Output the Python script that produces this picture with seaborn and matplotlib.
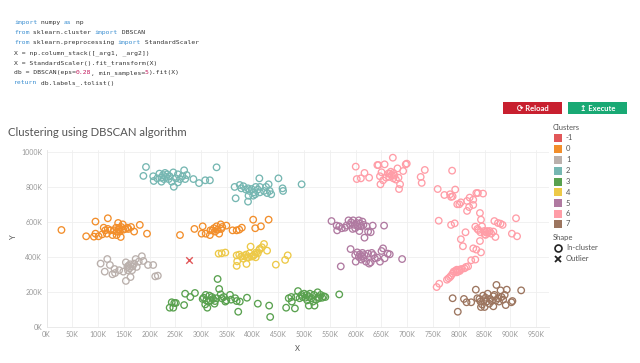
import matplotlib
matplotlib.use('Agg')
import pandas as pd
import matplotlib.pyplot as plt
import seaborn as sns
from matplotlib.patches import Rectangle

# --- data (values in thousands) ---
x_out = [276]
y_out = [383]

x0 = [29, 77, 92, 95, 95, 101, 108, 111, 114, 117, 119, 119, 128, 131, 135, 136, 139, 140, 142, 144,
      145, 148, 149, 153, 157, 159, 164, 170, 181, 195, 136, 141, 124,
      259, 287, 301, 303, 309, 317, 322, 325, 327, 330, 332, 335, 338, 339, 341, 349, 361, 369, 374, 379,
      401, 405, 416, 431, 318]
y0 = [556, 520, 518, 535, 604, 520, 531, 569, 554, 535, 623, 562, 527, 554, 569, 527, 596, 558, 547, 516,
      573, 588, 558, 562, 569, 562, 573, 547, 585, 535, 547, 569, 554,
      527, 562, 535, 577, 535, 527, 554, 566, 547, 577, 558, 535, 588, 562, 573, 581, 554, 554, 558, 569,
      615, 566, 577, 615, 554]

x1 = [105, 113, 118, 123, 128, 132, 133, 141, 154, 154, 157, 158, 159, 161, 162, 163, 167, 170, 173, 175,
      179, 185, 188, 197, 207, 211, 216, 166, 149]
y1 = [364, 318, 390, 356, 303, 333, 310, 326, 371, 265, 345, 326, 352, 337, 360, 287, 348, 364, 390, 345,
      375, 406, 379, 356, 356, 291, 295, 326, 318]

x2 = [193, 188, 207, 208, 219, 223, 226, 230, 232, 234, 237, 239, 243, 246, 247, 251, 255, 255, 259, 264,
      267, 269, 272, 285, 296, 308, 317, 330, 223, 228, 215,
      365, 375, 378, 382, 387, 391, 394, 398, 402, 406, 410, 414, 413, 422, 426, 431, 433, 436, 450, 458,
      459, 367, 391, 392, 401, 405, 414, 428, 495]
y2 = [916, 865, 863, 836, 878, 832, 870, 882, 859, 874, 847, 863, 832, 885, 803, 851, 874, 828, 847, 863,
      897, 847, 870, 847, 824, 840, 840, 914, 855, 847, 851,
      802, 813, 794, 806, 787, 794, 779, 790, 771, 802, 787, 802, 851, 779, 802, 817, 779, 760, 851, 794,
      779, 737, 718, 752, 752, 760, 771, 767, 817]

x3 = [332, 335, 338, 340, 344, 347, 349, 356, 358, 366, 369, 375, 372, 389, 410, 432, 434, 239, 243, 246,
      248, 251, 267, 269, 279, 288, 303, 305, 308, 310, 312, 314, 316, 318, 321, 323, 326, 327, 330, 309,
      465, 470, 475, 482, 488, 491, 495, 497, 500, 502, 505, 506, 509, 510, 511, 514, 517, 519, 520, 523,
      526, 527, 529, 532, 535, 538, 541, 568, 484, 476]
y3 = [276, 219, 188, 166, 173, 147, 154, 185, 158, 166, 150, 147, 89, 169, 135, 124, 59, 112, 143, 112,
      139, 139, 127, 192, 173, 196, 162, 169, 131, 154, 112, 147, 181, 154, 173, 162, 135, 150, 166, 185,
      112, 166, 173, 108, 207, 166, 185, 173, 192, 169, 185, 154, 124, 173, 192, 166, 147, 185, 124, 158,
      200, 173, 166, 185, 169, 177, 173, 188, 173, 147]

x4 = [334, 340, 347, 369, 370, 369, 374, 378, 384, 387, 388, 392, 394, 396, 398, 401, 403, 406, 407, 410,
      413, 414, 418, 422, 428, 445, 463, 468, 389, 382]
y4 = [421, 423, 427, 411, 377, 351, 415, 404, 407, 415, 362, 400, 423, 461, 404, 407, 415, 400, 427, 423,
      442, 449, 457, 476, 438, 358, 385, 411, 400, 392]

x5 = [553, 563, 564, 568, 573, 579, 582, 586, 589, 591, 594, 595, 598, 599, 602, 604, 606, 607, 611, 613,
      615, 617, 621, 624, 629, 633, 655, 608,
      571, 590, 599, 600, 603, 606, 608, 611, 612, 615, 617, 620, 624, 626, 629, 631, 634, 637, 642, 647,
      650, 653, 656, 662, 666, 690, 613]
y5 = [607, 581, 554, 577, 566, 569, 581, 611, 585, 600, 562, 611, 585, 566, 596, 577, 611, 550, 577, 604,
      585, 512, 577, 547, 543, 581, 581, 592,
      348, 447, 413, 375, 428, 402, 417, 387, 406, 394, 413, 375, 421, 364, 371, 425, 413, 394, 398, 375,
      436, 451, 394, 421, 417, 390, 425]

x6 = [600, 602, 610, 617, 626, 642, 644, 647, 650, 653, 648, 656, 659, 663, 665, 668, 670, 672, 673, 675,
      678, 681, 683, 686, 684, 692, 697, 699, 726, 728, 734, 787, 666, 673,
      759, 772, 783, 785, 788, 793, 797, 801, 804, 816, 816, 821, 820, 828, 828, 834, 837, 847, 841, 843,
      761, 785, 792, 813, 804, 808, 828, 832, 836, 838, 842, 845, 849, 850, 852, 855, 858, 860, 863, 867,
      871, 869, 876, 881, 885, 911, 903, 913, 841, 852,
      834, 843, 824, 832, 818, 811, 805, 802, 798, 796, 793, 790, 788, 785, 783, 780, 777, 762, 757, 801,
      796, 814]
y6 = [918, 847, 851, 882, 855, 927, 927, 863, 886, 840, 817, 931, 855, 878, 859, 889, 870, 969, 851, 867,
      844, 908, 855, 817, 790, 893, 931, 935, 859, 825, 899, 895, 878, 882,
      790, 756, 760, 745, 748, 787, 703, 703, 714, 722, 665, 741, 687, 729, 699, 767, 767, 764, 653, 615,
      609, 585, 594, 543, 503, 463, 451, 575, 562, 556, 543, 577, 550, 531, 543, 550, 543, 550, 535, 547,
      516, 607, 596, 592, 585, 623, 535, 520, 493, 528,
      444, 428, 383, 387, 348, 337, 333, 322, 318, 329, 322, 318, 307, 295, 287, 280, 272, 249, 230, 329,
      314, 345]

x7 = [788, 798, 810, 815, 824, 833, 836, 840, 842, 843, 845, 847, 849, 850, 852, 854, 856, 859, 861, 864,
      867, 869, 872, 873, 876, 878, 881, 883, 886, 889, 891, 893, 902, 904, 921, 867]
y7 = [166, 89, 162, 143, 143, 215, 166, 162, 147, 116, 131, 181, 154, 116, 169, 147, 192, 135, 162, 150,
      120, 185, 154, 242, 166, 147, 211, 173, 158, 185, 127, 215, 143, 150, 211, 177]

cluster_names = ['-1', '0', '1', '2', '3', '4', '5', '6', '7']
cluster_colors = ['#e15759', '#f28e2b', '#bab0ac', '#76b7b2', '#59a14f',
                  '#edc948', '#b07aa1', '#ff9da7', '#9c755f']

frames = []
for name, xs, ys in zip(cluster_names,
                        [x_out, x0, x1, x2, x3, x4, x5, x6, x7],
                        [y_out, y0, y1, y2, y3, y4, y5, y6, y7]):
    frames.append(pd.DataFrame({'x': xs, 'y': ys, 'cluster': name}))
df = pd.concat(frames, ignore_index=True)
df['shape'] = ['Outlier' if c == '-1' else 'In-cluster' for c in df['cluster']]

palette = dict(zip(cluster_names, cluster_colors))

# --- figure ---
sns.set_theme(style='white')
plt.rcParams['font.family'] = ['Lato', 'DejaVu Sans']

W, H = 640, 363
fig = plt.figure(figsize=(W / 100, H / 100), dpi=100)
fig.patch.set_facecolor('white')


def fx(px):
    return px / W


def fy(py):
    return 1 - py / H


ax = fig.add_axes([fx(46.5), fy(327.3), (549 - 46.5) / W, (327.3 - 150) / H])

inl = df[df['shape'] == 'In-cluster']
sns.scatterplot(data=inl, x='x', y='y', hue='cluster', palette=palette, marker='o',
                s=22, linewidth=0.95, legend=False, ax=ax)
coll = ax.collections[-1]
coll.set_edgecolors(coll.get_facecolors())
coll.set_facecolors('none')

out = df[df['shape'] == 'Outlier']
sns.scatterplot(data=out, x='x', y='y', color=palette['-1'], marker='x',
                s=22, linewidth=1.0, legend=False, ax=ax)

ax.set_xlim(0, 975)
ax.set_ylim(0, 1013)
ax.set_xticks(range(0, 951, 50))
ax.set_yticks(range(0, 1001, 200))
ax.set_xticklabels([f'{v}K' for v in range(0, 951, 50)])
ax.set_yticklabels([f'{v}K' for v in range(0, 1001, 200)])
ax.tick_params(axis='both', labelsize=5, colors='#999999', length=0, pad=3)
ax.grid(True, color='#efefef', linewidth=0.6)
ax.set_axisbelow(True)
for side in ['top', 'right']:
    ax.spines[side].set_visible(False)
for side in ['left', 'bottom']:
    ax.spines[side].set_color('#e6e6e6')
    ax.spines[side].set_linewidth(0.6)
ax.set_xlabel('X', fontsize=5.5, color='#555555', labelpad=5)
ax.set_ylabel('')
fig.text(fx(14), fy(237), 'Y', fontsize=5.5, color='#555555', rotation=90,
         ha='center', va='center')

# --- code block ---
kw_c, txt_c, num_c = '#3b8fd1', '#333333', '#c2185b'
code_lines = [
    [('import', kw_c), (' numpy ', txt_c), ('as', kw_c), (' np', txt_c)],
    [('from', kw_c), (' sklearn.cluster ', txt_c), ('import', kw_c), (' DBSCAN', txt_c)],
    [('from', kw_c), (' sklearn.preprocessing ', txt_c), ('import', kw_c), (' StandardScaler', txt_c)],
    [('X = np.column_stack([_arg1, _arg2])', txt_c)],
    [('X = StandardScaler().fit_transform(X)', txt_c)],
    [('db = DBSCAN(eps=', txt_c), ('0.28', num_c), (', min_samples=', txt_c), ('5', num_c), (').fit(X)', txt_c)],
    [('return', kw_c), (' db.labels_.tolist()', txt_c)],
]
cw = 0.602 * 4.6 * 100 / 72
for i, parts in enumerate(code_lines):
    col = 0
    for s, c in parts:
        fig.text(fx(14 + col * cw), fy(22.7 + 10 * i), s, family='DejaVu Sans Mono',
                 fontsize=4.6, color=c, va='center', ha='left')
        col += len(s)

# --- buttons ---
for x_l, x_r, col, label in [(503.3, 561.7, '#c8202f', '\u27f3 Reload'),
                             (567.7, 626.7, '#19a974', '\u21a5 Execute')]:
    fig.add_artist(Rectangle((fx(x_l), fy(113.7)), (x_r - x_l) / W, 11.4 / H,
                             transform=fig.transFigure, color=col, lw=0))
    fig.text(fx((x_l + x_r) / 2), fy(108.2), label, color='white', fontsize=5.5,
             fontweight='bold', ha='center', va='center')

# --- title ---
fig.text(fx(8.5), fy(133), 'Clustering using DBSCAN algorithm', fontsize=8.2,
         color='#555555', ha='left', va='center')

# --- legend ---
fig.text(fx(553), fy(127.5), 'Clusters', fontsize=5.5, color='#555555', va='center')
leg_y = [137.7, 148.7, 159.7, 170.7, 181.5, 192.3, 203, 213.5, 224]
for name, yy in zip(cluster_names, leg_y):
    fig.add_artist(Rectangle((fx(554), fy(yy + 4)), 8 / W, 8 / H,
                             transform=fig.transFigure, color=palette[name], lw=0))
    fig.text(fx(566), fy(yy), name, fontsize=5.5, color='#555555', va='center')
fig.text(fx(553), fy(237.5), 'Shape', fontsize=5.5, color='#555555', va='center')
fig.add_artist(plt.Line2D([fx(557.5)], [fy(248)], marker='o', markersize=5, mfc='none',
                          mec='#222222', mew=1.2, transform=fig.transFigure))
fig.add_artist(plt.Line2D([fx(557.5)], [fy(258.7)], marker='x', markersize=5,
                          mec='#222222', mew=1.3, transform=fig.transFigure))
fig.text(fx(566), fy(248), 'In-cluster', fontsize=5.5, color='#555555', va='center')
fig.text(fx(566), fy(258.7), 'Outlier', fontsize=5.5, color='#555555', va='center')

fig.savefig('out.png', dpi=100, facecolor='white')
